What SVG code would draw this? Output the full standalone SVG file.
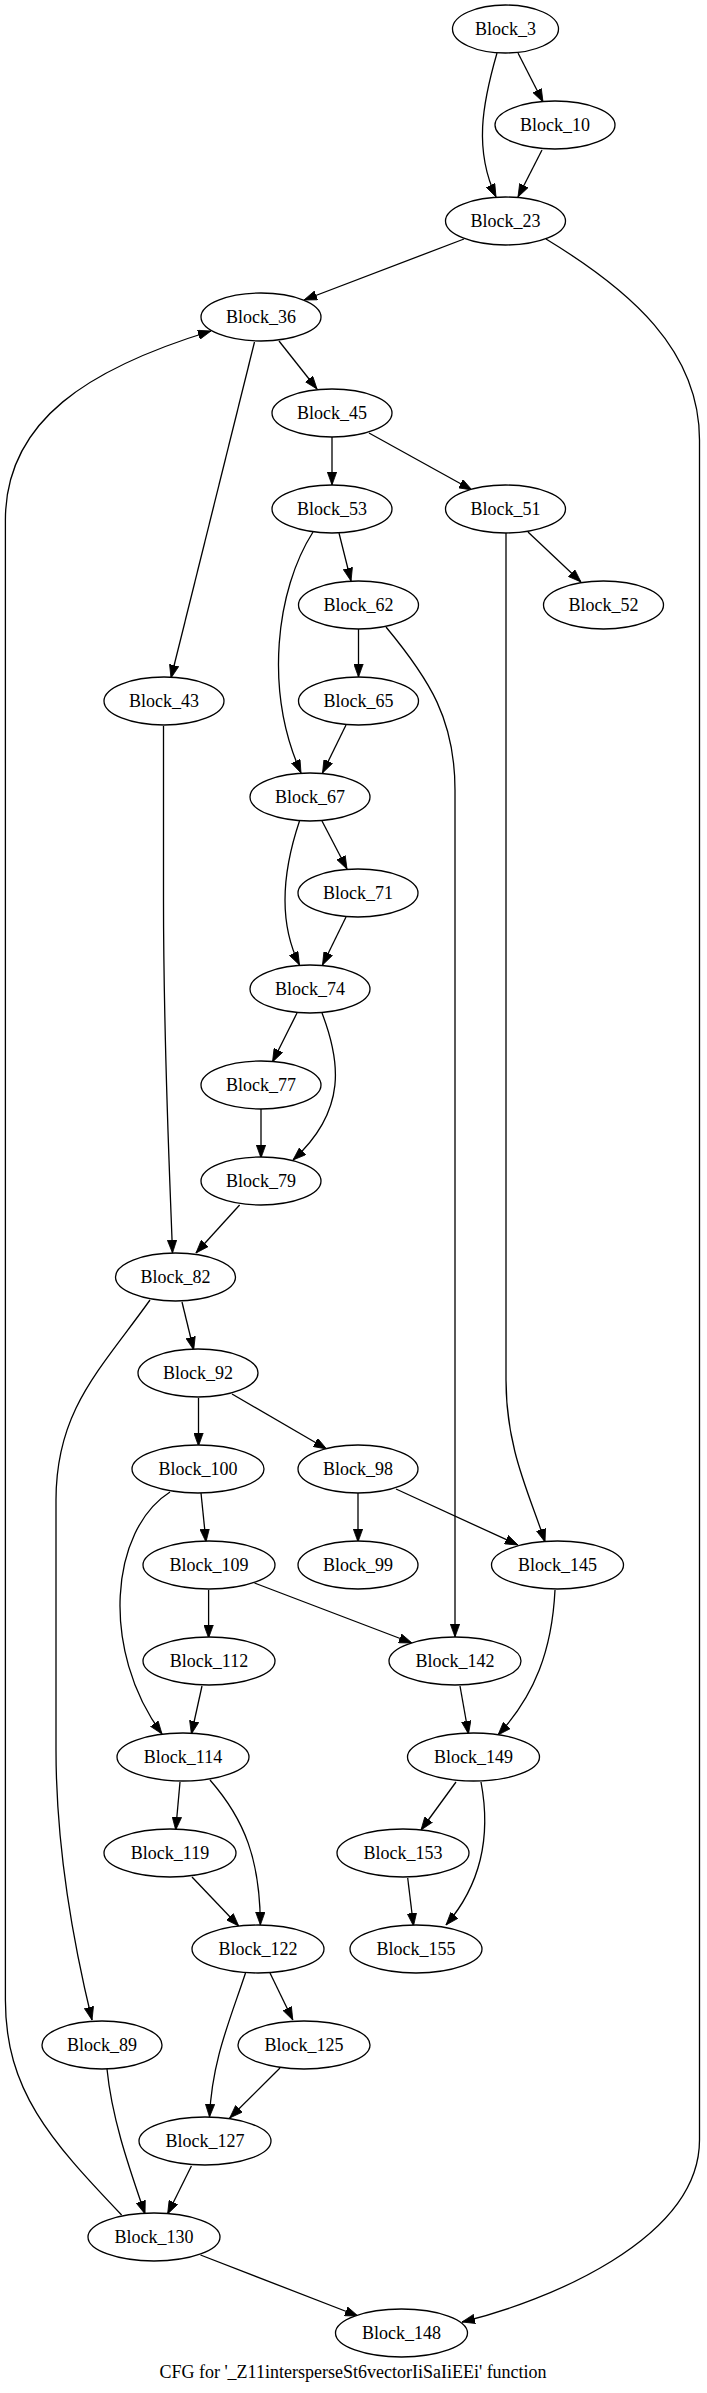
<svg xmlns="http://www.w3.org/2000/svg" width="707" height="2393" viewBox="0 0 707 2393">
<style>
.n ellipse{fill:#fff;stroke:#000;stroke-width:1.3}
.n text,.t{font-family:"Liberation Serif","Times New Roman",serif;font-size:18px;text-anchor:middle;fill:#000}
#edges path{fill:none;stroke:#000;stroke-width:1.3;marker-end:url(#ah)}
</style>
<defs>
<marker id="ah" viewBox="0 0 13 10" refX="13" refY="5" markerWidth="13" markerHeight="10" markerUnits="userSpaceOnUse" orient="auto">
<path d="M0,0.3 L13,5 L0,9.7 Z" fill="#000" stroke="#000" stroke-width="0.8"/>
</marker>
</defs>
<rect width="707" height="2393" fill="#fff"/>
<g id="edges">
<path d="M518,53 L543,102"/>
<path d="M497,53 C482,105 474,150 496,197"/>
<path d="M542,150 L518,197"/>
<path d="M464,239 L304,300"/>
<path d="M546,239 C630,290 699.5,350 699.5,440 L699.5,2140 C699.5,2240 545,2302 462,2322"/>
<path d="M279,341 L317,389"/>
<path d="M254.5,342 L171,678"/>
<path d="M121.6,2215 C50,2140 5.4,2090 5.4,2000 L5.4,520 C5.4,420 90,368 211,331"/>
<path d="M332,437 L332,485"/>
<path d="M369,433 L472,490"/>
<path d="M339,533 L351,581"/>
<path d="M313,532 C276,590 264,690 301,773"/>
<path d="M528,532 L581,582"/>
<path d="M506,533 L506,1380 C506,1450 530,1495 545,1542"/>
<path d="M358.5,629 L358.5,677"/>
<path d="M386,627 C430,680 455,720 455,790 L455,1637"/>
<path d="M346,725 L322.5,773"/>
<path d="M163.5,726 L163.5,900 C163.5,1050 170,1180 172.5,1253"/>
<path d="M322,821 L347,869"/>
<path d="M299.5,821 C283,870 277,920 299.5,965"/>
<path d="M346,917 L322.5,965"/>
<path d="M297,1013 L272.5,1062"/>
<path d="M322,1013 C340,1060 348,1110 293,1160"/>
<path d="M261,1109 L261,1158"/>
<path d="M239.6,1205 L196,1253"/>
<path d="M182,1302 L193.7,1350"/>
<path d="M150,1300 C100,1370 56,1410 56,1500 L56,1750 C56,1850 75,1950 92,2020"/>
<path d="M198.5,1398 L198.5,1446"/>
<path d="M232,1394 L326.6,1449"/>
<path d="M201,1493 L206,1542"/>
<path d="M170,1492 C110,1530 100,1650 162,1734"/>
<path d="M358,1493 L358,1542"/>
<path d="M396,1489 L518,1545"/>
<path d="M208.6,1590 L208.6,1638"/>
<path d="M254.5,1583 L412,1643"/>
<path d="M202,1686 L191.4,1734"/>
<path d="M555,1590 C552,1650 535,1695 498,1735"/>
<path d="M460,1686 L468.5,1734"/>
<path d="M180,1782 L175.7,1830"/>
<path d="M210,1780 C245,1820 260,1860 260.4,1925"/>
<path d="M456,1782 L421,1830"/>
<path d="M481,1782 C490,1830 485,1880 446,1925"/>
<path d="M192,1877 L238.7,1926"/>
<path d="M407.7,1878 L413.5,1926"/>
<path d="M270,1973 L292.8,2020"/>
<path d="M245.5,1973 C230,2020 212,2060 209.5,2117"/>
<path d="M280,2068 L229.7,2118"/>
<path d="M107,2069 C112,2120 130,2170 145,2214"/>
<path d="M191.4,2166 L167.6,2214"/>
<path d="M200.5,2255 L358,2316"/>
</g>
<g id="Block_3" class="n"><ellipse cx="505.5" cy="29" rx="53" ry="24"/><text x="505.5" y="35">Block_3</text></g>
<g id="Block_10" class="n"><ellipse cx="555" cy="125" rx="60" ry="24"/><text x="555" y="131">Block_10</text></g>
<g id="Block_23" class="n"><ellipse cx="505.5" cy="221" rx="60" ry="24"/><text x="505.5" y="227">Block_23</text></g>
<g id="Block_36" class="n"><ellipse cx="261" cy="317" rx="60" ry="24"/><text x="261" y="323">Block_36</text></g>
<g id="Block_45" class="n"><ellipse cx="332" cy="413" rx="60" ry="24"/><text x="332" y="419">Block_45</text></g>
<g id="Block_53" class="n"><ellipse cx="332" cy="509" rx="60" ry="24"/><text x="332" y="515">Block_53</text></g>
<g id="Block_51" class="n"><ellipse cx="505.5" cy="509" rx="60" ry="24"/><text x="505.5" y="515">Block_51</text></g>
<g id="Block_62" class="n"><ellipse cx="358.5" cy="605" rx="60" ry="24"/><text x="358.5" y="611">Block_62</text></g>
<g id="Block_52" class="n"><ellipse cx="603.5" cy="605" rx="60" ry="24"/><text x="603.5" y="611">Block_52</text></g>
<g id="Block_43" class="n"><ellipse cx="164" cy="701" rx="60" ry="24"/><text x="164" y="707">Block_43</text></g>
<g id="Block_65" class="n"><ellipse cx="358.5" cy="701" rx="60" ry="24"/><text x="358.5" y="707">Block_65</text></g>
<g id="Block_67" class="n"><ellipse cx="310" cy="797" rx="60" ry="24"/><text x="310" y="803">Block_67</text></g>
<g id="Block_71" class="n"><ellipse cx="358" cy="893" rx="60" ry="24"/><text x="358" y="899">Block_71</text></g>
<g id="Block_74" class="n"><ellipse cx="310" cy="989" rx="60" ry="24"/><text x="310" y="995">Block_74</text></g>
<g id="Block_77" class="n"><ellipse cx="261" cy="1085" rx="60" ry="24"/><text x="261" y="1091">Block_77</text></g>
<g id="Block_79" class="n"><ellipse cx="261" cy="1181" rx="60" ry="24"/><text x="261" y="1187">Block_79</text></g>
<g id="Block_82" class="n"><ellipse cx="175.5" cy="1277" rx="60" ry="24"/><text x="175.5" y="1283">Block_82</text></g>
<g id="Block_92" class="n"><ellipse cx="198" cy="1373" rx="60" ry="24"/><text x="198" y="1379">Block_92</text></g>
<g id="Block_100" class="n"><ellipse cx="198" cy="1469" rx="66" ry="24"/><text x="198" y="1475">Block_100</text></g>
<g id="Block_98" class="n"><ellipse cx="358" cy="1469" rx="60" ry="24"/><text x="358" y="1475">Block_98</text></g>
<g id="Block_109" class="n"><ellipse cx="209" cy="1565" rx="66" ry="24"/><text x="209" y="1571">Block_109</text></g>
<g id="Block_99" class="n"><ellipse cx="358" cy="1565" rx="60" ry="24"/><text x="358" y="1571">Block_99</text></g>
<g id="Block_145" class="n"><ellipse cx="557.5" cy="1565" rx="66" ry="24"/><text x="557.5" y="1571">Block_145</text></g>
<g id="Block_112" class="n"><ellipse cx="209" cy="1661" rx="66" ry="24"/><text x="209" y="1667">Block_112</text></g>
<g id="Block_142" class="n"><ellipse cx="455" cy="1661" rx="66" ry="24"/><text x="455" y="1667">Block_142</text></g>
<g id="Block_114" class="n"><ellipse cx="183" cy="1757" rx="66" ry="24"/><text x="183" y="1763">Block_114</text></g>
<g id="Block_149" class="n"><ellipse cx="473.5" cy="1757" rx="66" ry="24"/><text x="473.5" y="1763">Block_149</text></g>
<g id="Block_119" class="n"><ellipse cx="170" cy="1853" rx="66" ry="24"/><text x="170" y="1859">Block_119</text></g>
<g id="Block_153" class="n"><ellipse cx="403" cy="1853" rx="66" ry="24"/><text x="403" y="1859">Block_153</text></g>
<g id="Block_122" class="n"><ellipse cx="258" cy="1949" rx="66" ry="24"/><text x="258" y="1955">Block_122</text></g>
<g id="Block_155" class="n"><ellipse cx="416" cy="1949" rx="66" ry="24"/><text x="416" y="1955">Block_155</text></g>
<g id="Block_89" class="n"><ellipse cx="102" cy="2045" rx="60" ry="24"/><text x="102" y="2051">Block_89</text></g>
<g id="Block_125" class="n"><ellipse cx="304" cy="2045" rx="66" ry="24"/><text x="304" y="2051">Block_125</text></g>
<g id="Block_127" class="n"><ellipse cx="205" cy="2141" rx="66" ry="24"/><text x="205" y="2147">Block_127</text></g>
<g id="Block_130" class="n"><ellipse cx="154" cy="2237" rx="66" ry="24"/><text x="154" y="2243">Block_130</text></g>
<g id="Block_148" class="n"><ellipse cx="401.5" cy="2333" rx="66" ry="24"/><text x="401.5" y="2339">Block_148</text></g>
<text class="t" x="353" y="2378">CFG for '_Z11intersperseSt6vectorIiSaIiEEi' function</text>
</svg>
